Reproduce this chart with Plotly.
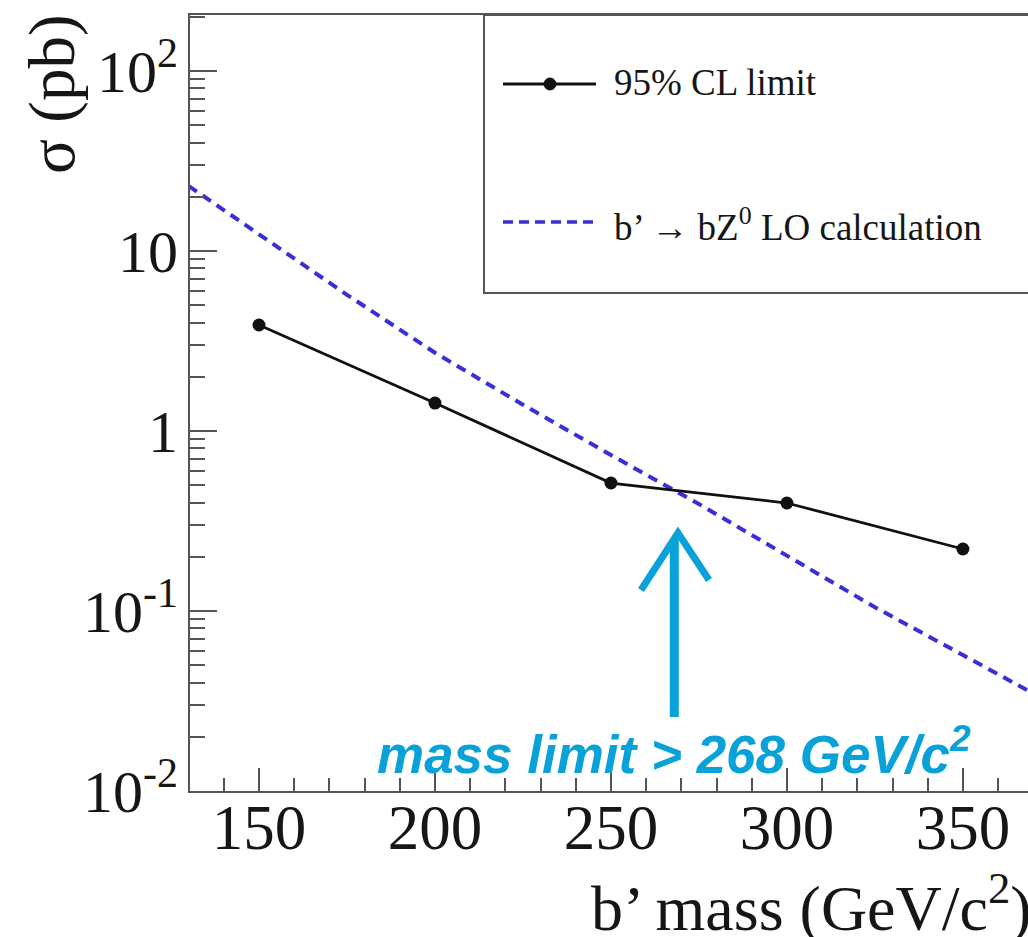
import plotly.graph_objects as go

# ---- data ----
mass_points = [150, 200, 250, 300, 350]
limit_95cl = [3.88, 1.43, 0.514, 0.398, 0.221]

theory_mass = [130, 150, 175, 200, 225, 250, 275, 300, 325, 350, 375]
theory_xsec = [23.0, 12.4, 5.71, 2.72, 1.40, 0.735, 0.393, 0.203, 0.105, 0.0569, 0.0308]

y_tickvals = [0.01, 0.1, 1, 10, 100]
y_ticktext = ["10<sup>-2</sup>", "10<sup>-1</sup>", "1", "10", "10<sup>2</sup>"]
x_tickvals = [150, 200, 250, 300, 350]
x_ticktext = ["150", "200", "250", "300", "350"]
mass_limit = 268

# ---- style ----
W, H = 1028, 937
L, T, B, R = 190, 15, 146, 0
PW, PH = W - L - R, H - T - B
AXC = "#555555"
TXT = "#161616"
SERIF = "Liberation Serif, Times New Roman, serif"
CYAN = "#08a2d9"
BLUE = "#3a2ed6"


def px2x(px):
    return (px - L) / PW


def py2y(py):
    return (H - B - py) / PH


y_minor = [m * 10 ** e for e in range(-2, 3) for m in range(2, 10)]

fig = go.Figure()
fig.add_trace(go.Scatter(x=theory_mass, y=theory_xsec, mode="lines",
                         line=dict(color=BLUE, width=4, dash="10px,7px"),
                         showlegend=False, hoverinfo="skip"))
fig.add_trace(go.Scatter(x=mass_points, y=limit_95cl, mode="lines+markers",
                         line=dict(color="#111111", width=2.8),
                         marker=dict(color="#111111", size=13),
                         showlegend=False))

fig.update_layout(
    width=W, height=H,
    margin=dict(l=L, r=R, t=T, b=B, pad=0),
    paper_bgcolor="white", plot_bgcolor="white",
    showlegend=False,
    font=dict(family=SERIF, color=TXT),
)
fig.update_xaxes(
    range=[130.4, 368.5], showgrid=False, zeroline=False,
    showline=True, linecolor=AXC, linewidth=2, mirror=True,
    tickmode="array", tickvals=x_tickvals, ticktext=x_ticktext,
    ticks="inside", ticklen=23, tickwidth=2, tickcolor=AXC,
    tickfont=dict(family=SERIF, size=63, color=TXT),
    ticklabelstandoff=-20,
    minor=dict(dtick=10, tick0=0, ticks="inside", ticklen=13, tickwidth=2,
               tickcolor=AXC, showgrid=False),
)
fig.update_yaxes(
    type="log", range=[-2, 2.311], showgrid=False, zeroline=False,
    showline=True, linecolor=AXC, linewidth=2, mirror=False,
    tickmode="array", tickvals=y_tickvals, ticktext=y_ticktext,
    ticks="inside", ticklen=27, tickwidth=2, tickcolor=AXC,
    tickfont=dict(family=SERIF, size=60, color=TXT),
    ticklabelstandoff=-2,
    minor=dict(tickmode="array", tickvals=y_minor, ticks="inside", ticklen=15,
               tickwidth=2, tickcolor=AXC, showgrid=False),
)

shapes = []
# legend box
shapes.append(dict(type="rect", xref="paper", yref="paper",
                   x0=px2x(484), x1=px2x(1040), y0=py2y(293), y1=py2y(15),
                   line=dict(color=AXC, width=2), fillcolor="rgba(0,0,0,0)"))
# legend samples
shapes.append(dict(type="line", xref="paper", yref="paper",
                   x0=px2x(503), x1=px2x(596), y0=py2y(84), y1=py2y(84),
                   line=dict(color="#111111", width=2.8)))
shapes.append(dict(type="circle", xref="paper", yref="paper",
                   x0=px2x(544), x1=px2x(556), y0=py2y(90), y1=py2y(78),
                   line=dict(color="#111111", width=1), fillcolor="#111111"))
shapes.append(dict(type="line", xref="paper", yref="paper",
                   x0=px2x(503), x1=px2x(596), y0=py2y(222), y1=py2y(222),
                   line=dict(color=BLUE, width=3.5, dash="10px,6px")))
# arrow (shaft + head) at the mass limit
shapes.append(dict(type="line", xref="x", yref="paper",
                   x0=mass_limit, x1=mass_limit, y0=py2y(717), y1=py2y(540),
                   line=dict(color=CYAN, width=9)))
shapes.append(dict(type="path", xref="paper", yref="paper",
                   path=f"M {px2x(641)} {py2y(590)} L {px2x(678)} {py2y(533)} L {px2x(709)} {py2y(580)}",
                   line=dict(color=CYAN, width=7)))
fig.update_layout(shapes=shapes)

annotations = [
    dict(text="95% CL limit", xref="paper", yref="paper", x=px2x(612), y=py2y(82),
         xanchor="left", yanchor="middle", showarrow=False,
         font=dict(family=SERIF, size=37, color=TXT)),
    dict(text="b’ → bZ<sup>0</sup> LO calculation", xref="paper", yref="paper",
         x=px2x(612), y=py2y(224), xanchor="left", yanchor="middle", showarrow=False,
         font=dict(family=SERIF, size=37, color=TXT)),
    dict(text="σ (pb)", xref="paper", yref="paper", x=px2x(52), y=py2y(12),
         xanchor="center", yanchor="top", textangle=-90, showarrow=False,
         font=dict(family=SERIF, size=65, color=TXT)),
    dict(text="b’ mass (GeV/c<sup>2</sup>)", xref="paper", yref="paper",
         x=px2x(1034), y=py2y(946), xanchor="right", yanchor="bottom", showarrow=False,
         font=dict(family=SERIF, size=64, color=TXT)),
    dict(text="<b><i>mass limit &gt; 268 GeV/c<sup>2</sup></i></b>", xref="x", yref="paper",
         x=mass_limit, y=py2y(750), xanchor="center", yanchor="middle", showarrow=False,
         font=dict(family="Liberation Sans, Arial, sans-serif", size=53, color=CYAN)),
]
fig.update_layout(annotations=annotations)

fig.write_html("out.html")
